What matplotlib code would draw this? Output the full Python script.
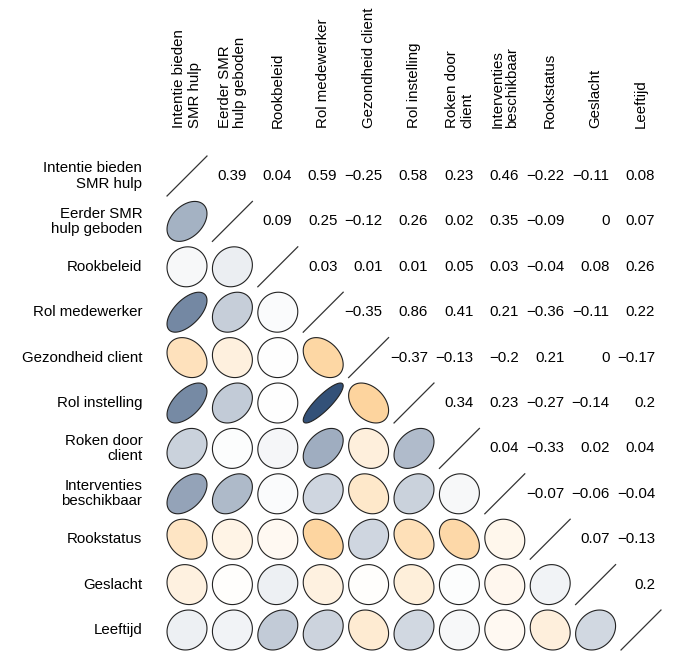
import numpy as np
import matplotlib
matplotlib.use("Agg")
import matplotlib.pyplot as plt
from matplotlib.colors import LinearSegmentedColormap
from matplotlib.patches import Polygon

plt.rcParams['font.family'] = ['Liberation Sans', 'DejaVu Sans']

row_labels = ["Intentie bieden\nSMR hulp", "Eerder SMR\nhulp geboden", "Rookbeleid",
              "Rol medewerker", "Gezondheid client", "Rol instelling",
              "Roken door\nclient", "Interventies\nbeschikbaar", "Rookstatus",
              "Geslacht", "Leeftijd"]
col_labels = row_labels

# upper triangle values, row by row (right of the diagonal)
upper = [
    [0.39, 0.04, 0.59, -0.25, 0.58, 0.23, 0.46, -0.22, -0.11, 0.08],
    [0.09, 0.25, -0.12, 0.26, 0.02, 0.35, -0.09, 0, 0.07],
    [0.03, 0.01, 0.01, 0.05, 0.03, -0.04, 0.08, 0.26],
    [-0.35, 0.86, 0.41, 0.21, -0.36, -0.11, 0.22],
    [-0.37, -0.13, -0.2, 0.21, 0, -0.17],
    [0.34, 0.23, -0.27, -0.14, 0.2],
    [0.04, -0.33, 0.02, 0.04],
    [-0.07, -0.06, -0.04],
    [0.07, -0.13],
    [0.2],
]

n = len(row_labels)
M = np.eye(n)
for i, vals in enumerate(upper):
    for j, v in enumerate(vals):
        M[i, i + 1 + j] = v
        M[i + 1 + j, i] = v

cmap = LinearSegmentedColormap.from_list(
    "corr", [(0.0, (250/255, 142/255, 0/255)), (0.5, (1, 1, 1)), (1.0, (17/255, 52/255, 98/255))])

W, H = 681, 660
fig = plt.figure(figsize=(W/100, H/100), dpi=100)
cell = 45.4
x0 = 187 - cell/2
y_top = 176 - cell/2
ax = fig.add_axes([x0/W, 1 - (y_top + n*cell)/H, n*cell/W, n*cell/H])
ax.set_xlim(-0.5, n - 0.5)
ax.set_ylim(n - 0.5, -0.5)
ax.axis('off')

s = 0.88
k = np.linspace(0, 2*np.pi, 99)
for i in range(n):
    for j in range(n):
        rho = M[i, j]
        if i == j:
            ax.plot([j - s/2, j + s/2], [i + s/2, i - s/2], color='#333333', lw=0.9)
        elif i > j:
            a = np.arccos(np.clip(rho, -1, 1)) / 2
            xs = j + s*np.cos(k + a)/2
            ys = i - s*np.cos(k - a)/2
            poly = Polygon(np.column_stack([xs, ys]), closed=True,
                           facecolor=cmap((rho + 1)/2 - 0.004), edgecolor='#222222', lw=0.8)
            ax.add_patch(poly)
        else:
            txt = ("%g" % rho).replace('-', '\u2212')
            ax.text(j + 0.31, i, txt, ha='right', va='center', fontsize=10.8, color='black')

fs = 10.8
for i, lab in enumerate(row_labels):
    ax.text(-0.5 - 22/cell, i, lab, ha='right', va='center', multialignment='right',
            fontsize=fs, linespacing=1.1)
for j, lab in enumerate(col_labels):
    ax.text(j, -0.5 - 25/cell, lab, ha='center', va='bottom', rotation=90,
            multialignment='left', fontsize=fs, linespacing=1.1)

fig.savefig("out.png", dpi=100)
